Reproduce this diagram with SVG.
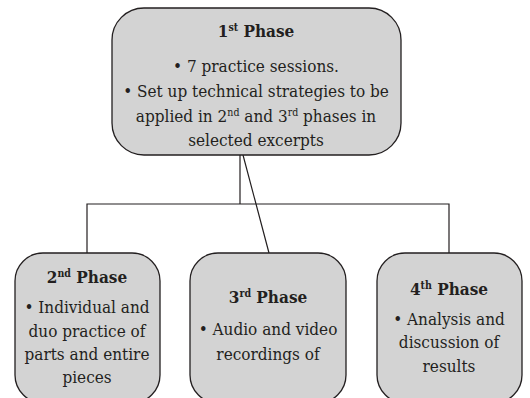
<svg xmlns="http://www.w3.org/2000/svg" width="530" height="398" viewBox="0 0 530 398">
<style>
.box{fill:#d3d3d3;stroke:#231f20;stroke-width:1.3}
.t{font-family:"DejaVu Serif Condensed","DejaVu Serif",serif;font-stretch:condensed;font-size:17px;fill:#231f20;text-anchor:middle}
.h{font-weight:bold}
.sup{font-size:10.5px}
.con{fill:none;stroke:#231f20;stroke-width:1.2}
</style>
<rect width="530" height="398" fill="#ffffff"/>
<g id="connectors">
<path class="con" d="M240,155 V204 M87,253 V204 H449 V253 M243,155 L269,253"/>
</g>
<g id="phase1">
<rect class="box" x="112" y="8" width="289" height="147" rx="32"/>
<text class="t h" x="256" y="37">1<tspan class="sup" dy="-6">st</tspan><tspan dy="6"> Phase</tspan></text>
<text class="t" x="256" y="72">• 7 practice sessions.</text>
<text class="t" x="256" y="97">• Set up technical strategies to be</text>
<text class="t" x="256" y="122">applied in 2<tspan class="sup" dy="-6">nd</tspan><tspan dy="6"> and 3</tspan><tspan class="sup" dy="-6">rd</tspan><tspan dy="6"> phases in</tspan></text>
<text class="t" x="256" y="146">selected excerpts</text>
</g>
<g id="phase2">
<rect class="box" x="15" y="253" width="145" height="150" rx="28"/>
<text class="t h" x="87" y="283">2<tspan class="sup" dy="-6">nd</tspan><tspan dy="6"> Phase</tspan></text>
<text class="t" x="87" y="313">• Individual and</text>
<text class="t" x="87" y="337">duo practice of</text>
<text class="t" x="87" y="360">parts and entire</text>
<text class="t" x="87" y="383">pieces</text>
</g>
<g id="phase3">
<rect class="box" x="190" y="253" width="156" height="150" rx="28"/>
<text class="t h" x="268" y="303">3<tspan class="sup" dy="-6">rd</tspan><tspan dy="6"> Phase</tspan></text>
<text class="t" x="268" y="335">• Audio and video</text>
<text class="t" x="268" y="360">recordings of</text>
</g>
<g id="phase4">
<rect class="box" x="377" y="253" width="145" height="150" rx="28"/>
<text class="t h" x="449" y="295">4<tspan class="sup" dy="-6">th</tspan><tspan dy="6"> Phase</tspan></text>
<text class="t" x="449" y="325">• Analysis and</text>
<text class="t" x="449" y="348">discussion of</text>
<text class="t" x="449" y="372">results</text>
</g>
</svg>
